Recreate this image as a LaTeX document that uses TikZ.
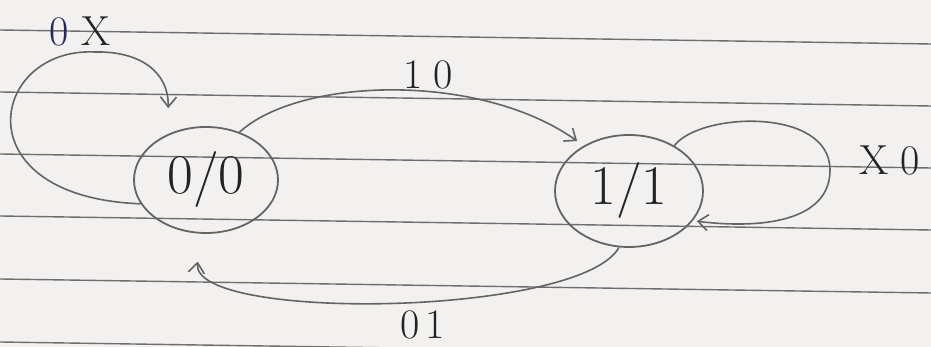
\documentclass[tikz,border=0pt]{standalone}
\usetikzlibrary{shapes.geometric,arrows.meta}
\definecolor{paper}{RGB}{243,241,240}
\definecolor{pencil}{RGB}{100,100,100}
\definecolor{rule}{RGB}{110,110,110}
\definecolor{ink}{RGB}{35,35,35}
\definecolor{blueink}{RGB}{35,40,95}
\begin{document}
\begin{tikzpicture}[>={Straight Barb[length=5pt,width=8pt]}, x=0.5pt, y=0.5pt]
			\tikzset{
				state/.style={ellipse, draw=pencil, line width=0.9pt, inner sep=0pt,
						text=ink, font=\fontsize{28}{28}\selectfont},
				edge/.style={->, draw=pencil, line width=0.8pt},
				lbl/.style={text=ink, font=\fontsize{21}{21}\selectfont},
			}
			\fill[paper] (0,0) rectangle (931,347);
			\useasboundingbox (0,0) rectangle (931,347);
			\foreach \y in {317,255,193,131,68,5} {
					\draw[rule, line width=0.7pt] (0,\y) -- (931,{\y-14});
				}
			\node[state, minimum width=72pt, minimum height=53pt] (s0) at (206,167) {0/0};
			\node[state, minimum width=74pt, minimum height=56pt] (s1) at (629,156) {1/1};
			\draw[edge, shorten >=13pt] (s0.200) .. controls (-40,150) and (-10,300) .. (95,295)
				.. controls (140,296) and (169,275) .. (s0.130);
			\draw[edge, shorten >=4pt] (s0.55) .. controls (300,270) and (480,275) .. (s1.135);
			\draw[edge, shorten >=2pt] (s1.45) .. controls (700,235) and (830,240) .. (830,177)
				.. controls (830,125) and (760,118) .. (s1.-25);
			\draw[edge, shorten >=14pt] (s1.-100) .. controls (580,30) and (190,25) .. (s0.-95);
			\node[lbl] (l0) at (80,316) {\textcolor{blueink}{0}\hspace{6pt}X};
			\node[lbl] (l1) at (428,272) {1\hspace{5pt}0};
			\node[lbl] (l2) at (890,187) {X\hspace{6pt}0};
			\node[lbl] (l3) at (423,22) {0\hspace{3pt}1};
		\end{tikzpicture}
\end{document}
